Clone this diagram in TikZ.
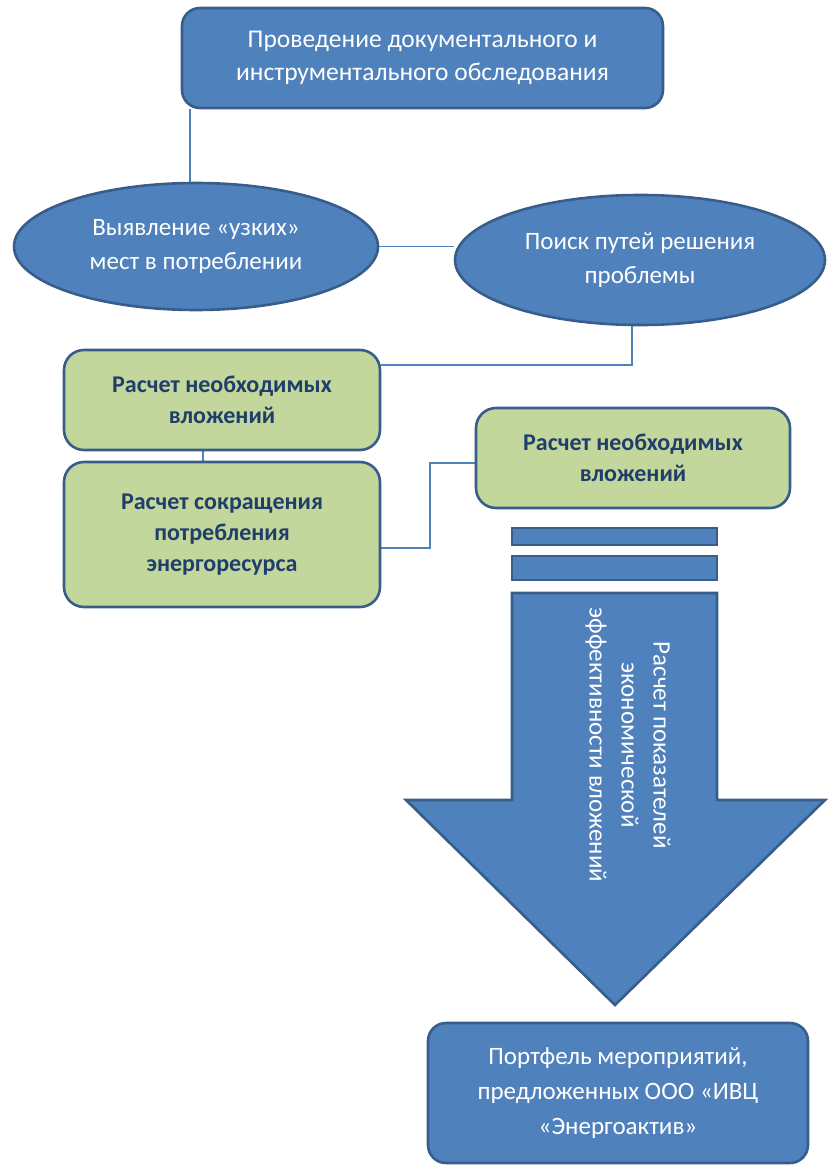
\documentclass[tikz,border=0pt]{standalone}
\usepackage{fontspec}
\setmainfont{Carlito}
\usetikzlibrary{shapes.geometric,backgrounds,calc}
\definecolor{bfill}{HTML}{4F81BD}
\definecolor{bline}{HTML}{385D8A}
\definecolor{gfill}{HTML}{C3D69B}
\definecolor{gtext}{HTML}{1F3F6A}
\tikzset{
  bluebox/.style={draw=bline,line width=2.6pt,fill=bfill,rounded corners=18pt,text=white,align=center,font=\fontsize{25.5}{33}\selectfont,inner sep=0pt},
  bluell/.style={ellipse,draw=bline,line width=2.6pt,fill=bfill,text=white,align=center,font=\fontsize{25}{34}\selectfont,inner sep=0pt},
  greenbox/.style={draw=bline,line width=2.6pt,fill=gfill,rounded corners=20pt,text=gtext,align=center,font=\fontsize{24}{31}\selectfont\bfseries,inner sep=0pt},
  conn/.style={draw=bfill,line width=1.5pt},
  barbox/.style={draw=bline,line width=2.6pt,fill=bfill}
}
\begin{document}
\begin{tikzpicture}[x=1pt,y=-1pt]
\useasboundingbox (0,0) rectangle (827,1166);
% top box
\node[bluebox,minimum width=481pt,minimum height=100pt] (top) at (422.5,58) {Проведение документального и\\инструментального обследования};
% ellipses
\node[bluell,minimum width=364pt,minimum height=127pt] (L) at (196,246.5) {Выявление «узких»\\мест в потреблении};
\node[bluell,minimum width=370pt,minimum height=130pt] (R) at (640,260) {Поиск путей решения\\проблемы};
% green boxes
\node[greenbox,minimum width=316pt,minimum height=100pt] (g1) at (222,400) {Расчет необходимых\\вложений};
\node[greenbox,minimum width=316pt,minimum height=145pt] (g2) at (222,534.5) {Расчет сокращения\\потребления\\энергоресурса};
\node[greenbox,minimum width=314pt,minimum height=100pt] (g3) at (633,458) {Расчет необходимых\\вложений};
% bars
\node[barbox,minimum width=205pt,minimum height=17pt,inner sep=0pt] (b1) at (614.5,536.5) {};
\node[barbox,minimum width=205pt,minimum height=24pt,inner sep=0pt] (b2) at (614.5,568) {};
% arrow
\coordinate (a1) at (512,593);
\coordinate (a2) at (717,593);
\coordinate (a3) at (717,800);
\coordinate (a4) at (825,800);
\coordinate (a5) at (615,1005);
\coordinate (a6) at (406,800);
\coordinate (a7) at (512,800);
\draw[draw=bline,line width=2.6pt,fill=bfill,line join=miter] (a1) -- (a2) -- (a3) -- (a4) -- (a5) -- (a6) -- (a7) -- cycle;
\node[rotate=-90,text=white,align=center,font=\fontsize{25}{32}\selectfont] (at) at (628,745) {Расчет показателей\\экономической\\эффективности вложений};
% bottom box
\node[bluebox,minimum width=380pt,minimum height=140pt,font=\fontsize{25}{35}\selectfont] (bot) at (618,1093) {Портфель мероприятий,\\предложенных ООО «ИВЦ\\«Энергоактив»};
% connectors
\begin{scope}[on background layer]
\draw[conn] (top.south -| 190,0) -- (190,190);
\draw[conn] (L.east) -- (L.east -| R.west);
\draw[conn] (R.south -| 632,0) -- (632,365) -- (g1.east |- 0,365);
\draw[conn] (g1.south -| 203,0) -- (g2.north -| 203,0);
\draw[conn] (g2.east |- 0,548) -- (430,548) -- (430,463) -- (g3.west |- 0,463);
\end{scope}
\end{tikzpicture}
\end{document}
